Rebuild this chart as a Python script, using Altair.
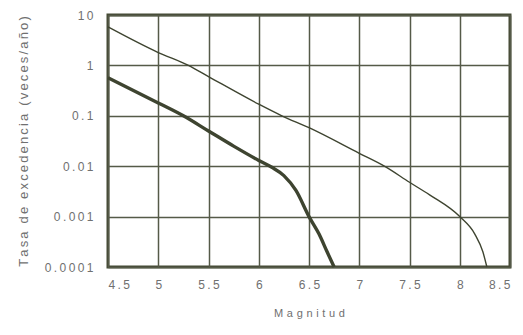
import altair as alt
import pandas as pd

# Thin curve (upper)
thin_mag = [4.5, 5.0, 5.3, 5.5, 6.0, 6.23, 6.5, 7.0, 7.25, 7.5, 7.7, 8.0, 8.15, 8.23, 8.27]
thin_rate = [5.8, 1.8, 1.0, 0.6, 0.17, 0.1, 0.058, 0.018, 0.01, 0.0048, 0.0027, 0.001, 0.00045, 0.0002, 0.0001]

# Thick curve (lower)
thick_mag = [4.5, 5.0, 5.25, 5.5, 5.75, 6.0, 6.13, 6.25, 6.37, 6.5, 6.6, 6.68, 6.75]
thick_rate = [0.57, 0.18, 0.1, 0.05, 0.025, 0.013, 0.0095, 0.0065, 0.0033, 0.001, 0.00045, 0.0002, 0.0001]

x_ticks = [4.5, 5, 5.5, 6, 6.5, 7, 7.5, 8, 8.5]
y_ticks = [0.0001, 0.001, 0.01, 0.1, 1, 10]

x_title = "Magnitud"
y_title = "Tasa de excedencia (veces/año)"

thin_df = pd.DataFrame({"mag": thin_mag, "rate": thin_rate})
thick_df = pd.DataFrame({"mag": thick_mag, "rate": thick_rate})

LINE = "#3e4430"
TXT = "#707070"

x_enc = alt.X(
    "mag:Q",
    scale=alt.Scale(domain=[4.5, 8.5], nice=False, zero=False),
    axis=alt.Axis(
        values=x_ticks,
        title="\u2004".join(list(x_title)),
        labelExpr="join(split(datum.label, ''), '\u2009')",
        format="~g",
        labelPadding=12,
        titlePadding=17,
        titleFontSize=11,
        labelFontSize=12,
    ),
)
y_enc = alt.Y(
    "rate:Q",
    scale=alt.Scale(type="log", domain=[0.0001, 10], nice=False),
    axis=alt.Axis(
        values=y_ticks,
        title="\u2006".join(list(y_title)),
        labelExpr="join(split(datum.value >= 1 ? format(datum.value, 'd') : format(datum.value, '~g'), ''), '\u2009')",
        labelPadding=15,
        titlePadding=14,
        titleFontSize=13,
        labelFontSize=12,
    ),
)

thin = alt.Chart(thin_df).mark_line(color=LINE, strokeWidth=1.4, interpolate="monotone").encode(x=x_enc, y=y_enc)
thick = alt.Chart(thick_df).mark_line(color=LINE, strokeWidth=3.4, interpolate="monotone").encode(x=x_enc, y=y_enc)

chart = (
    alt.layer(thin, thick)
    .properties(
        width=402,
        height=252,
        autosize=alt.AutoSizeParams(type="none"),
        padding={"left": 100, "top": 7, "right": 5, "bottom": 60},
        background="white",
    )
    .configure_view(stroke="#454a35", strokeWidth=3)
    .configure_axis(
        grid=True,
        gridColor="#555a48",
        gridWidth=1.5,
        gridOpacity=1,
        ticks=False,
        tickSize=0,
        domain=False,
        labelColor=TXT,
        titleColor=TXT,
        labelFont="Liberation Sans",
        titleFont="Liberation Sans",
        titleFontWeight="normal",
    )
)

chart.save("out.html", embed_options={"renderer": "svg", "actions": False})
